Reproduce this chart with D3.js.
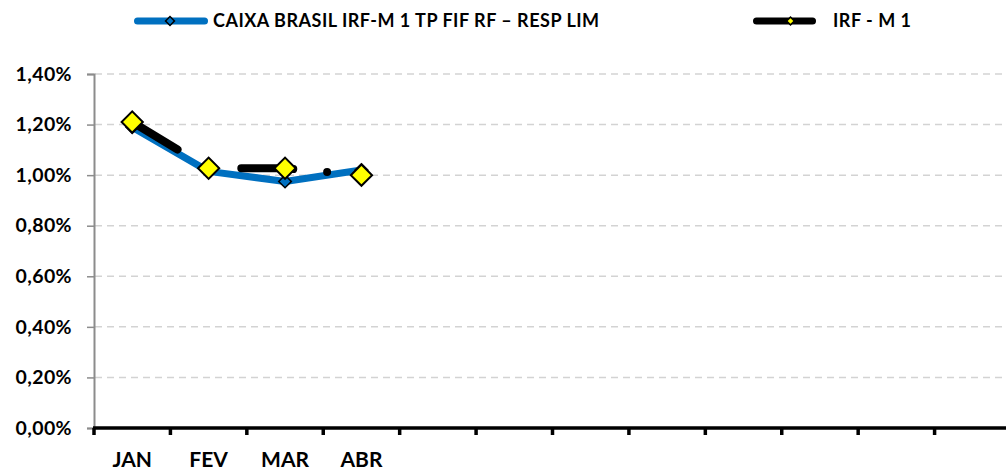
<!DOCTYPE html>
<html>
<head>
<meta charset="utf-8">
<script src="https://cdn.jsdelivr.net/npm/d3@7"></script>
<style>
  body { margin: 0; background: #fff; }
  svg { display: block; font-family: Lato, "Noto Sans", sans-serif; font-weight: 700; }
</style>
</head>
<body>
<div id="root"></div>
<script>
const width = 1006;
const height = 471;

// 12 category slots, only the first four are labelled / filled
const months = ["JAN", "FEV", "MAR", "ABR", "", "", "", "", "", "", "", ""];
const fundValues = [1.19, 1.015, 0.975, 1.02];   // CAIXA BRASIL IRF-M 1 TP FIF RF – RESP LIM
const indexValues = [1.21, 1.027, 1.027, 1.00];  // IRF - M 1
const yTicks = [0, 0.2, 0.4, 0.6, 0.8, 1.0, 1.2, 1.4];
const seriesNames = ["CAIXA BRASIL IRF-M 1 TP FIF RF – RESP LIM", "IRF - M 1"];

const blue = "#0070c0";

const x = d3.scaleBand().domain(d3.range(months.length)).range([94, 1011]);
const y = d3.scaleLinear().domain([0, 1.4]).range([428, 74]);

const fmt = (v) => v.toFixed(2).replace(".", ",") + "%";

const svg = d3.select("#root")
    .append("svg")
    .attr("width", width)
    .attr("height", height);

// grid
svg.append("g")
    .selectAll("line")
    .data(yTicks.filter(d => d > 0))
    .enter().append("line")
    .attr("x1", 95).attr("x2", width)
    .attr("y1", d => y(d)).attr("y2", d => y(d))
    .attr("stroke", "#d3d3d3")
    .attr("stroke-width", 1.5)
    .attr("stroke-dasharray", "7,5");

// y axis
const yAxis = svg.append("g")
    .attr("transform", "translate(94,0)")
    .call(d3.axisLeft(y).tickValues(yTicks).tickFormat(fmt).tickSize(7).tickPadding(15));
yAxis.select(".domain").attr("stroke", "#8c8c8c").attr("stroke-width", 2);
yAxis.selectAll(".tick line").attr("stroke", "#8c8c8c").attr("stroke-width", 1.5);
yAxis.selectAll(".tick text")
    .attr("fill", "#000")
    .attr("font-size", 19.5)
    .attr("letter-spacing", 0.4)
    .attr("font-family", "Lato, 'Noto Sans', sans-serif")
    .attr("font-weight", 700);

// x axis
const xAxis = svg.append("g").attr("transform", "translate(0,428)");
xAxis.append("line")
    .attr("x1", 93).attr("x2", width)
    .attr("stroke", "#000").attr("stroke-width", 3.5);
xAxis.selectAll(".tk")
    .data(d3.range(months.length + 1))
    .enter().append("line")
    .attr("class", "tk")
    .attr("x1", d => 94 + d * x.step()).attr("x2", d => 94 + d * x.step())
    .attr("y1", 0).attr("y2", 7)
    .attr("stroke", "#000").attr("stroke-width", 3.5);
xAxis.selectAll("text")
    .data(months.map((m, i) => ({ m, i })).filter(d => d.m))
    .enter().append("text")
    .attr("x", d => x(d.i) + x.bandwidth() / 2)
    .attr("y", 39)
    .attr("text-anchor", "middle")
    .attr("font-size", 21)
    .text(d => d.m);

const line = d3.line()
    .x((d, i) => x(i) + x.bandwidth() / 2)
    .y(d => y(d));

const diamond = (size) => d3.symbol().type(d3.symbolSquare).size(size);

// fund series
svg.append("path")
    .datum(fundValues)
    .attr("fill", "none")
    .attr("stroke", blue)
    .attr("stroke-width", 7)
    .attr("stroke-linejoin", "round")
    .attr("d", line);

svg.append("g")
    .selectAll("path")
    .data(fundValues)
    .enter().append("path")
    .attr("transform", (d, i) => `translate(${x(i) + x.bandwidth() / 2},${y(d)})rotate(45)`)
    .attr("d", diamond(80))
    .attr("fill", blue)
    .attr("stroke", "#000")
    .attr("stroke-width", 1.5);

// index series (broken black line)
svg.append("path")
    .datum(indexValues)
    .attr("fill", "none")
    .attr("stroke", "#000")
    .attr("stroke-width", 8)
    .attr("stroke-linecap", "round")
    .attr("stroke-dasharray", "53 69 52 34 0 1000")
    .attr("d", line);

svg.append("g")
    .selectAll("path")
    .data(indexValues)
    .enter().append("path")
    .attr("transform", (d, i) => `translate(${x(i) + x.bandwidth() / 2},${y(d)})rotate(45)`)
    .attr("d", diamond(225))
    .attr("fill", "#ffff00")
    .attr("stroke", "#000")
    .attr("stroke-width", 2);

// legend
const legend = svg.append("g");
const items = [
    { name: seriesNames[0], x1: 134, x2: 208, color: blue, mark: blue, size: 40, tx: 213 },
    { name: seriesNames[1], x1: 753, x2: 816, color: "#000", mark: "#ffff00", size: 30, tx: 833 }
];
items.forEach(it => {
    legend.append("line")
        .attr("x1", it.x1 + 3.5).attr("x2", it.x2 - 3.5)
        .attr("y1", 21).attr("y2", 21)
        .attr("stroke", it.color)
        .attr("stroke-width", 7)
        .attr("stroke-linecap", "round");
    legend.append("path")
        .attr("transform", `translate(${(it.x1 + it.x2) / 2 + (it.mark === blue ? -1 : 6)},21)rotate(45)`)
        .attr("d", diamond(it.size))
        .attr("fill", it.mark)
        .attr("stroke", "#000")
        .attr("stroke-width", 1.5);
    legend.append("text")
        .attr("x", it.tx)
        .attr("y", 27)
        .attr("font-size", 18)
        .attr("letter-spacing", 0.5)
        .text(it.name);
});
</script>
</body>
</html>
